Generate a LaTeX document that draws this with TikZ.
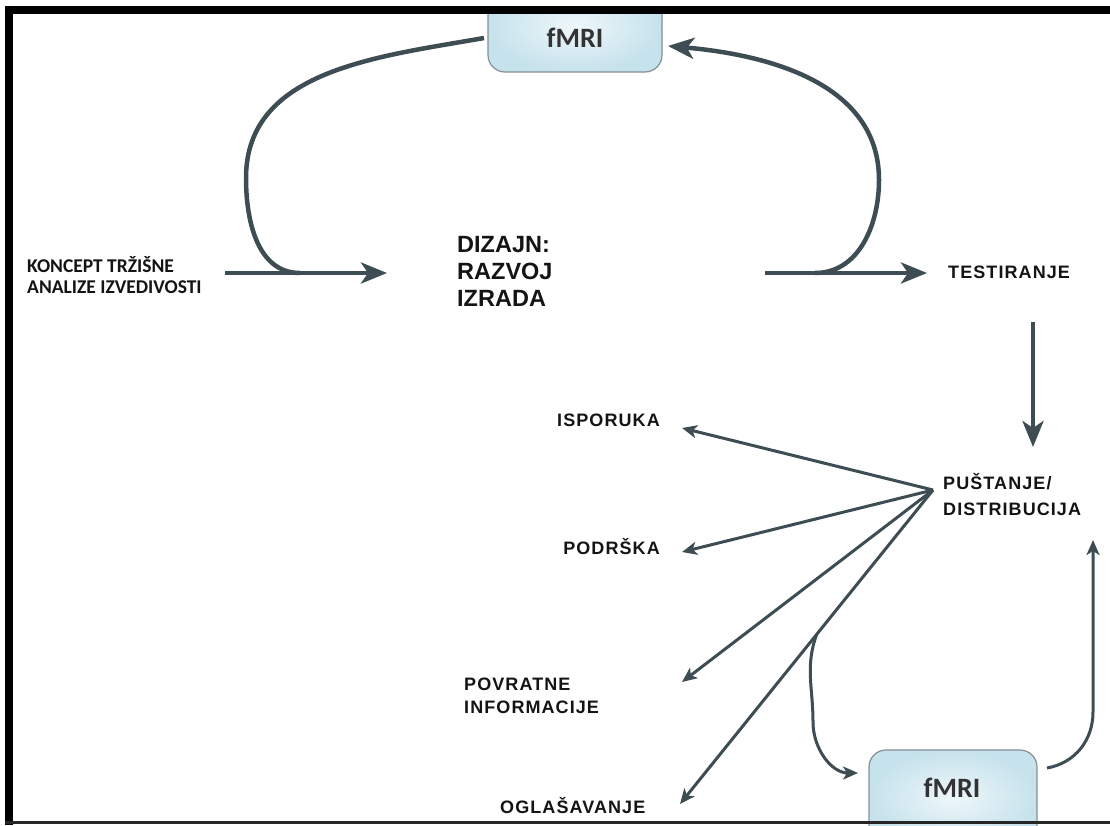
\documentclass[tikz,border=0pt]{standalone}
\usepackage{fontspec}
\setmainfont{Liberation Sans}
\newfontfamily\lsp[LetterSpace=6]{Liberation Sans}
\newfontfamily\calib{Carlito}
\usetikzlibrary{arrows.meta,calc}
\definecolor{arr}{HTML}{3E4C54}
\definecolor{boxin}{HTML}{EEF7FA}
\definecolor{boxout}{HTML}{C6E2EC}
\definecolor{boxline}{HTML}{858F94}
\definecolor{txt}{HTML}{141414}
\begin{document}
\begin{tikzpicture}[x=1pt,y=1pt,
  big/.style={draw=arr,line width=4.5pt,-{Stealth[length=26pt,width=21pt,inset=7pt]}},
  fan/.style={draw=arr,line width=3pt,-{Stealth[length=15pt,width=13pt,inset=4pt]}},
  fbox/.style={draw=boxline,line width=1.2pt,rounded corners=17pt,inner color=boxin,outer color=boxout},
  ftxt/.style={font=\calib\bfseries\fontsize{28}{30}\selectfont,text=black!80,inner sep=0pt,anchor=base},
  small/.style={font=\calib\bfseries\fontsize{19.5}{22}\selectfont,text=txt,inner sep=0pt,anchor=base west},
  lab/.style={font=\lsp\bfseries\fontsize{18}{21}\selectfont,text=txt,inner sep=0pt,anchor=base west},
  labr/.style={lab,anchor=base east},
  big text/.style={font=\bfseries\fontsize{23.5}{27}\selectfont,text=txt,inner sep=0pt,anchor=base west}]
\useasboundingbox (0,0) rectangle (1110,-825);
\fill[white] (0,0) rectangle (1110,-825);

% boxes
\begin{scope}
\clip (0,-6) rectangle (1110,-825);
\draw[fbox] (488,20) rectangle (662,-72);
\draw[fbox] (869,-750) rectangle (1037,-845);
\end{scope}
\node[ftxt] (f1) at (575,-47) {fMRI};
\node[ftxt] (f2) at (952,-797) {fMRI};
\coordinate (b1w) at (484,-38);
\coordinate (b1e) at (668,-46);
\coordinate (b2w) at (858,-773);
\coordinate (b2e) at (1047,-768);

% texts
\node[small] (k1) at (27,-272) {KONCEPT TRŽIŠNE};
\node[small] (k2) at (27,-293) {ANALIZE IZVEDIVOSTI};
\node[big text] (d1) at (457,-252) {DIZAJN:};
\node[big text] (d2) at (457,-279) {RAZVOJ};
\node[big text] (d3) at (457,-306) {IZRADA};
\node[lab] (t) at (948,-278) {TESTIRANJE};
\node[lab] (p1) at (943,-489) {PUŠTANJE/};
\node[lab] (p2) at (943,-515) {DISTRIBUCIJA};
\node[labr] (i) at (660,-426) {ISPORUKA};
\node[labr] (po) at (660,-554) {PODRŠKA};
\node[lab] (pv1) at (464,-690) {POVRATNE};
\node[lab] (pv2) at (464,-713) {INFORMACIJE};
\node[lab] (o) at (500,-813) {OGLAŠAVANJE};

% coordinates
\coordinate (a1s) at (225,-273);
\coordinate (a1e) at (387,-273);
\coordinate (j1) at (300,-273);
\coordinate (a2s) at (765,-273);
\coordinate (a2e) at (927,-273);
\coordinate (j2) at (815,-273);
\coordinate (ds) at (1033,-322);
\coordinate (de) at (1033,-447);
\coordinate (hub) at (933,-490);
\coordinate (ti) at (682,-428);
\coordinate (tp) at (682,-552);
\coordinate (tv) at (682,-682);
\coordinate (to) at (680,-804);
\coordinate (br) at ($(hub)!0.46!(to)$);
\coordinate (up) at (1093,-540);

% main arrows
\draw[big] (a1s) -- (a1e);
\draw[big] (a2s) -- (a2e);
\draw[big] (ds) -- (de);
\draw[draw=arr,line width=4.5pt] (b1w) to[out=190,in=90] (246,-178) to[out=-90,in=180] (j1);
\draw[big] (j2) to[out=0,in=-90] (879,-180) to[out=90,in=-5] (b1e);

% fan
\draw[fan] (hub) -- (ti);
\draw[fan] (hub) -- (tp);
\draw[fan] (hub) -- (tv);
\draw[fan] (hub) -- (to);
\draw[fan] (br) to[out=-110,in=90] (813,-722) to[out=-90,in=180] (b2w);
\draw[fan] (b2e) to[out=10,in=-90] (1093,-712) -- (up);

% frame
\fill[black] (5,-6) rectangle (1110,-14);
\fill[black] (5,-6) rectangle (13,-825);
\fill[black!85] (5,-821) rectangle (1110,-823.5);
\end{tikzpicture}
\end{document}
